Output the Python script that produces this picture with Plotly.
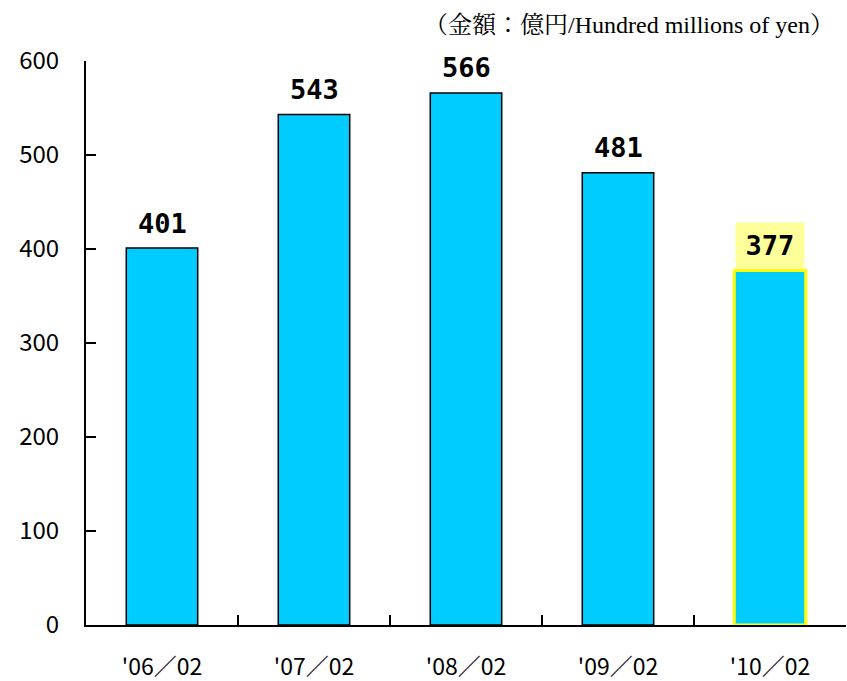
import plotly.graph_objects as go

categories = ["'06／02", "'07／02", "'08／02", "'09／02", "'10／02"]
values = [401, 543, 566, 481, 377]
highlight = [False, False, False, False, True]

bar_fill = "#00CCFF"
line_colors = ["#FFFF00" if h else "#000000" for h in highlight]
line_widths = [3 if h else 1.5 for h in highlight]

fig = go.Figure()
fig.add_trace(go.Bar(
    x=categories, y=values,
    marker=dict(color=bar_fill, line=dict(color=line_colors, width=line_widths)),
    hoverinfo="skip",
))

for c, v, h in zip(categories, values, highlight):
    fig.add_annotation(
        x=c, y=v, text=str(v), showarrow=False,
        yanchor="middle", yshift=25,
        font=dict(family="DejaVu Sans Mono", size=27, color="#000000", weight="bold"),
        bgcolor="#FFFF99" if h else "rgba(0,0,0,0)",
        width=66 if h else None, height=43 if h else None,
    )

fig.add_annotation(
    xref="paper", yref="paper", x=1.0, y=1.0, xanchor="right", yanchor="middle",
    yshift=36, xshift=-10,
    text="（金額：億円/Hundred millions of yen）", showarrow=False,
    font=dict(family="Liberation Serif, Noto Serif CJK JP, Noto Sans CJK JP", size=24, color="#000000"),
)

fig.update_layout(
    width=847, height=681,
    margin=dict(l=86, r=1, t=61, b=56),
    paper_bgcolor="white", plot_bgcolor="white",
    bargap=0.53, showlegend=False,
    xaxis=dict(
        type="category", tickson="boundaries", ticks="inside", ticklen=10, tickwidth=2,
        tickcolor="#000000", showline=True, linecolor="#000000", linewidth=2,
        showgrid=False, zeroline=False, ticklabelstandoff=20, automargin=False,
        tickfont=dict(family="Noto Sans CJK JP", size=23, color="#000000"),
    ),
    yaxis=dict(
        range=[0, 600], tickvals=[0, 100, 200, 300, 400, 500, 600],
        ticks="inside", ticklen=10, tickwidth=2, tickcolor="#000000",
        showline=True, linecolor="#000000", linewidth=2,
        showgrid=False, zeroline=False, ticklabelstandoff=20, automargin=False,
        tickfont=dict(family="Noto Sans CJK JP", size=24, color="#000000"),
    ),
)

fig.write_html("out.html", config={"displayModeBar": False},
               post_script="document.body.style.margin='0';")
